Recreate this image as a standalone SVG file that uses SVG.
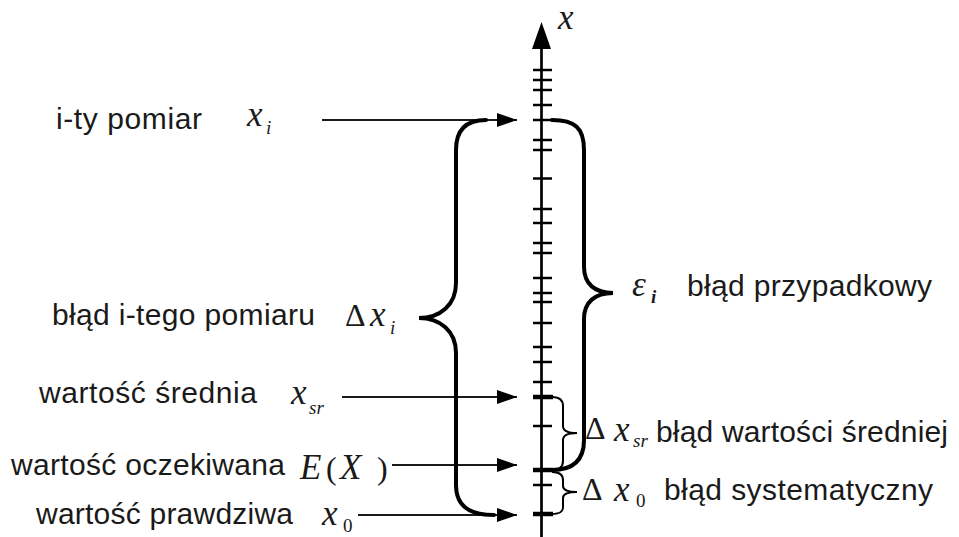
<svg xmlns="http://www.w3.org/2000/svg" width="959" height="537" viewBox="0 0 959 537">
<style>
  .t { font-family: "Liberation Sans", Arial, sans-serif; font-size: 30px; fill: #1a1a1a; }
  .mi { font-family: "Liberation Serif", "Times New Roman", serif; font-style: italic; font-size: 35px; fill: #1a1a1a; }
  .mu { font-family: "Liberation Serif", "Times New Roman", serif; font-size: 32px; fill: #1a1a1a; }
  .si { font-family: "Liberation Serif", "Times New Roman", serif; font-style: italic; font-size: 19px; fill: #1a1a1a; }
  .su { font-family: "Liberation Serif", "Times New Roman", serif; font-size: 19px; fill: #1a1a1a; }
  .arrow { stroke: #1a1a1a; stroke-width: 2; fill: none; marker-end: url(#ah); }
  .brace { stroke: #000; stroke-width: 4; fill: none; stroke-linecap: round; }
  .sbrace { stroke: #000; stroke-width: 2; fill: none; }
  .tick { stroke: #000; stroke-width: 2.5; }
  .ttick { stroke: #000; stroke-width: 4.5; }
</style>
<defs>
  <marker id="ah" markerUnits="userSpaceOnUse" markerWidth="20" markerHeight="14" refX="20" refY="7" orient="auto">
    <path d="M0,0 L20,7 L0,14 z" fill="#000"/>
  </marker>
</defs>
<rect width="959" height="537" fill="#fff"/>

<g id="axis">
  <line x1="541.5" y1="45" x2="541.5" y2="537" stroke="#000" stroke-width="2.7"/>
  <polygon points="541.5,22 551,49 532,49" fill="#000"/>
  <g class="tick">
    <line x1="533" y1="70" x2="552" y2="70"/>
    <line x1="533" y1="80" x2="552" y2="80"/>
    <line x1="533" y1="90" x2="552" y2="90"/>
    <line x1="533" y1="105" x2="552" y2="105"/>
    <line x1="533" y1="120" x2="552" y2="120"/>
    <line x1="533" y1="140" x2="552" y2="140"/>
    <line x1="533" y1="150" x2="552" y2="150"/>
    <line x1="533" y1="178.5" x2="552" y2="178.5"/>
    <line x1="533" y1="209" x2="552" y2="209"/>
    <line x1="533" y1="223" x2="552" y2="223"/>
    <line x1="533" y1="243" x2="552" y2="243"/>
    <line x1="533" y1="253" x2="552" y2="253"/>
    <line x1="533" y1="278" x2="552" y2="278"/>
    <line x1="533" y1="293" x2="552" y2="293"/>
    <line x1="533" y1="302" x2="552" y2="302"/>
    <line x1="533" y1="323" x2="552" y2="323"/>
    <line x1="533" y1="347" x2="552" y2="347"/>
    <line x1="533" y1="362" x2="552" y2="362"/>
    <line x1="533" y1="382" x2="552" y2="382"/>
    <line x1="533" y1="426" x2="552" y2="426"/>
    <line x1="533" y1="485" x2="552" y2="485"/>
  </g>
  <g class="ttick">
    <line x1="533" y1="397" x2="553" y2="397"/>
    <line x1="533" y1="470" x2="553" y2="470"/>
    <line x1="533" y1="514" x2="553" y2="514"/>
  </g>
  <text class="mi" x="558" y="29" font-size="30">x</text>
</g>

<g id="connectors">
  <line class="arrow" x1="322" y1="120" x2="517" y2="120"/>
  <line class="arrow" x1="342" y1="397" x2="517" y2="397"/>
  <line class="arrow" x1="392" y1="465" x2="517" y2="465"/>
  <line class="arrow" x1="358" y1="515" x2="517" y2="515"/>
</g>

<g id="braces">
  <path id="brace-measurement" class="brace" d="M486 120 C466 120 456 130 456 150 L456 283 C456 305 440 318 419 318 C440 318 456 331 456 353 L456 485 C456 505 468 515 494 515"/>
  <path id="brace-random" class="brace" d="M552 120 C575 120 584 128 584 150 L584 267 C584 284 595 293 613 293 C595 293 584 302 584 319 L584 440 C584 460 573 470 552 470"/>
  <path id="brace-mean" class="sbrace" d="M552 397 C560 397 563 400 563 406 L563 426 C563 431 567 433 577 433 C567 433 563 435 563 440 L563 461 C563 467 560 470 552 470"/>
  <path id="brace-systematic" class="sbrace" d="M552 472 C560 472 563 475 563 480 L563 486 C563 490 567 492 577 492 C567 492 563 494 563 498 L563 507 C563 512 560 514 552 514"/>
</g>

<g id="node-xi">
  <text class="t" x="56" y="129" textLength="146" lengthAdjust="spacing">i-ty pomiar</text>
  <text class="mi" x="247" y="126">x</text>
  <text class="si" x="266" y="134">i</text>
</g>

<g id="node-dxi">
  <text class="t" x="52" y="325" textLength="263" lengthAdjust="spacing">błąd i-tego pomiaru</text>
  <text class="mu" x="345" y="326">Δ</text>
  <text class="mi" x="370" y="326">x</text>
  <text class="si" x="390" y="334">i</text>
</g>

<g id="node-xsr">
  <text class="t" x="39" y="403" textLength="218" lengthAdjust="spacing">wartość średnia</text>
  <text class="mi" x="291" y="404">x</text>
  <text class="si" x="309" y="414">sr</text>
</g>

<g id="node-ex">
  <text class="t" x="11" y="475" textLength="274" lengthAdjust="spacing">wartość oczekiwana</text>
  <text class="mi" x="300" y="479" font-size="38">E</text>
  <text class="mu" x="326" y="479" font-size="38">(</text>
  <text class="mi" x="340" y="479" font-size="40">X</text>
  <text class="mu" x="377" y="479" font-size="38">)</text>
</g>

<g id="node-x0">
  <text class="t" x="36" y="524" textLength="257" lengthAdjust="spacing">wartość prawdziwa</text>
  <text class="mi" x="322" y="525">x</text>
  <text class="su" x="343" y="532">0</text>
</g>

<g id="node-eps">
  <text class="mi" x="632" y="296" font-size="31">ε</text>
  <text class="si" x="651" y="303" font-weight="bold">i</text>
  <text class="t" x="687" y="296" textLength="245" lengthAdjust="spacing">błąd przypadkowy</text>
</g>

<g id="node-dxsr">
  <text class="mu" x="585" y="439">Δ</text>
  <text class="mi" x="614" y="441">x</text>
  <text class="si" x="633" y="447">sr</text>
  <text class="t" x="656" y="442" textLength="292" lengthAdjust="spacing">błąd wartości średniej</text>
</g>

<g id="node-dx0">
  <text class="mu" x="582" y="500">Δ</text>
  <text class="mi" x="614" y="501">x</text>
  <text class="su" x="636" y="507">0</text>
  <text class="t" x="664" y="500" textLength="269" lengthAdjust="spacing">błąd systematyczny</text>
</g>
</svg>
